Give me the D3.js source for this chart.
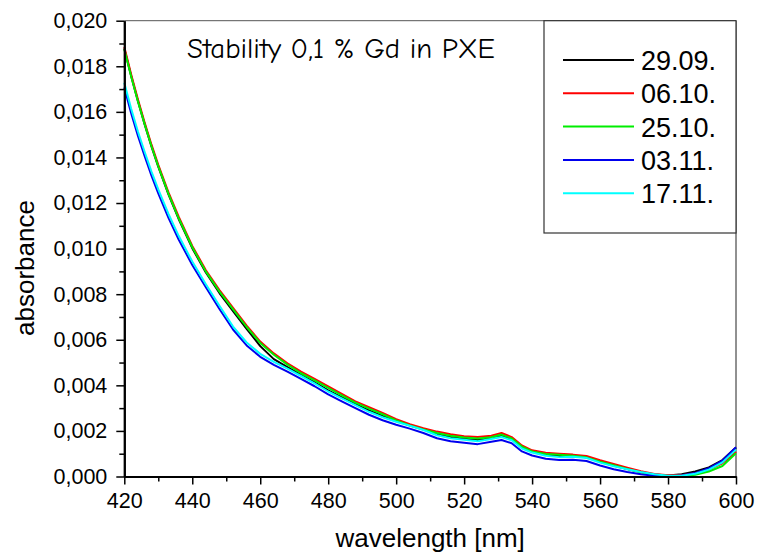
<!DOCTYPE html>
<html>
<head>
<meta charset="utf-8">
<script src="https://cdn.jsdelivr.net/npm/d3@7"></script>
<style>
  html, body { margin: 0; padding: 0; background: #fff; }
  svg { display: block; }
</style>
</head>
<body>
<svg id="chart" width="764" height="557"></svg>
<script>
// ---------- data (absorbance values in units of 0.001) ----------
const wavelengths = [420,422,424,426,428,430,433,436,440,444,448,452,456,460,464,468,472,476,480,484,488,492,496,500,504,508,512,516,520,524,528,531,534,537,540,544,548,552,556,560,564,568,572,576,580,584,588,592,596,600];

const s2909 = [18.78,17.58,16.48,15.45,14.48,13.60,12.38,11.30,10.02,8.95,8.05,7.25,6.48,5.72,5.15,4.80,4.46,4.13,3.78,3.47,3.17,2.90,2.66,2.44,2.25,2.07,1.86,1.73,1.66,1.60,1.70,1.80,1.64,1.28,1.08,0.95,0.90,0.90,0.85,0.65,0.48,0.33,0.20,0.09,0.04,0.10,0.22,0.40,0.72,1.27];
const s0610 = [18.85,17.65,16.55,15.52,14.56,13.68,12.47,11.40,10.12,9.05,8.18,7.40,6.62,5.92,5.40,4.97,4.60,4.28,3.95,3.62,3.30,3.04,2.79,2.52,2.30,2.12,1.97,1.85,1.77,1.73,1.79,1.91,1.73,1.36,1.15,1.04,1.00,0.96,0.90,0.71,0.55,0.39,0.23,0.11,0.05,0.06,0.14,0.30,0.58,1.08];
const s2510 = [18.75,17.56,16.47,15.45,14.49,13.61,12.40,11.33,10.06,8.99,8.11,7.33,6.56,5.86,5.34,4.91,4.53,4.22,3.89,3.56,3.24,2.98,2.73,2.46,2.24,2.06,1.91,1.79,1.71,1.67,1.72,1.84,1.67,1.31,1.10,0.99,0.95,0.91,0.84,0.65,0.49,0.33,0.18,0.07,0.02,0.02,0.08,0.22,0.46,1.02];
const s0311 = [17.07,15.95,14.95,14.05,13.20,12.42,11.35,10.40,9.28,8.30,7.35,6.45,5.75,5.25,4.90,4.60,4.28,3.96,3.60,3.30,3.00,2.71,2.47,2.27,2.10,1.91,1.68,1.55,1.48,1.42,1.52,1.60,1.46,1.10,0.92,0.78,0.72,0.74,0.68,0.48,0.32,0.20,0.10,0.03,0.00,0.04,0.15,0.36,0.70,1.28];
const s1711 = [17.28,16.15,15.14,14.24,13.38,12.60,11.52,10.56,9.43,8.44,7.49,6.58,5.88,5.38,5.03,4.73,4.41,4.09,3.73,3.43,3.13,2.84,2.60,2.40,2.23,2.04,1.81,1.68,1.61,1.55,1.65,1.73,1.59,1.23,1.05,0.91,0.85,0.87,0.81,0.61,0.45,0.32,0.20,0.10,0.03,0.03,0.12,0.30,0.62,1.18];

const seriesNames  = ["29.09.", "06.10.", "25.10.", "03.11.", "17.11."];
const seriesValues = [s2909, s0610, s2510, s0311, s1711];
const seriesColors = ["#000000", "#ff0000", "#00ee00", "#0000ee", "#00ffff"];

const xTicks = [420,440,460,480,500,520,540,560,580,600];
const yTicks = [0,0.002,0.004,0.006,0.008,0.010,0.012,0.014,0.016,0.018,0.020];
const titleText = "Stability 0,1 % Gd in PXE";
const xTitle = "wavelength [nm]";
const yTitle = "absorbance";

// ---------- layout ----------
const svg = d3.select("#chart");
const L = 124.3, R = 736, T = 20.7, B = 476.5;
const x = d3.scaleLinear().domain([420, 600]).range([L, R]);
const y = d3.scaleLinear().domain([0, 0.020]).range([B, T]);
const sansFont = "'Liberation Sans', Arial, sans-serif";

// frame (top/right thin)
svg.append("line").attr("x1", L).attr("x2", R).attr("y1", T).attr("y2", T)
  .attr("stroke", "#555").attr("stroke-width", 1);
svg.append("line").attr("x1", R).attr("x2", R).attr("y1", T).attr("y2", B)
  .attr("stroke", "#222").attr("stroke-width", 1);

// curves
const line = d3.line()
  .x((d, i) => x(wavelengths[i]))
  .y(d => y(d / 1000));
seriesValues.forEach((vals, k) => {
  svg.append("path").datum(vals)
    .attr("fill", "none")
    .attr("stroke", seriesColors[k])
    .attr("stroke-width", 2)
    .attr("stroke-linejoin", "round")
    .attr("d", line);
});

// axes
const xAxis = d3.axisBottom(x).tickValues(xTicks).tickFormat(d3.format("d")).tickSize(8).tickSizeOuter(0).tickPadding(8);
const xMinor = d3.axisBottom(x).tickValues(d3.range(430, 600, 20)).tickFormat("").tickSize(5).tickSizeOuter(0);
const yFmt = d => d3.format(".3f")(d).replace(".", ",");
const yAxis = d3.axisLeft(y).tickValues(yTicks).tickFormat(yFmt).tickSize(8).tickSizeOuter(0).tickPadding(9);
const yMinor = d3.axisLeft(y).tickValues(d3.range(0.001, 0.020, 0.002)).tickFormat("").tickSize(5).tickSizeOuter(0);

function styleAxis(g) {
  g.select(".domain").attr("stroke", "#000").attr("stroke-width", 2);
  g.selectAll(".tick line").attr("stroke", "#000").attr("stroke-width", 1.5);
  g.selectAll(".tick text").attr("fill", "#000").style("font-family", sansFont).style("font-size", "21.5px");
}
svg.append("g").attr("transform", `translate(0,${B})`).call(xMinor).call(styleAxis);
svg.append("g").attr("transform", `translate(${L},0)`).call(yMinor).call(styleAxis);
svg.append("g").attr("transform", `translate(0,${B})`).call(xAxis).call(styleAxis);
svg.append("g").attr("transform", `translate(${L},0)`).call(yAxis).call(styleAxis);

// axis titles
svg.append("text").attr("x", (L + R) / 2).attr("y", 547)
  .attr("text-anchor", "middle").style("font-family", sansFont).style("font-size", "26px")
  .text(xTitle);
svg.append("text").attr("transform", "translate(34,268) rotate(-90)")
  .attr("text-anchor", "middle").style("font-family", sansFont).style("font-size", "26px")
  .text(yTitle);

// title
const tt = svg.append("text").attr("x", 187).attr("y", 58)
  .style("font-family", "'Comic Sans MS', 'Comic Neue', 'DejaVu Sans', sans-serif")
  .style("font-size", "21px").text(titleText);
const tw = tt.node().getComputedTextLength();
tt.style("font-size", (21 * 308 / tw).toFixed(2) + "px");

// legend
svg.append("rect").attr("x", 544).attr("y", T).attr("width", R - 544).attr("height", 233 - T)
  .attr("fill", "#fff").attr("stroke", "#333").attr("stroke-width", 1.2);
seriesNames.forEach((name, k) => {
  const ly = 60 + k * 33.3;
  svg.append("line").attr("x1", 563).attr("x2", 634).attr("y1", ly).attr("y2", ly)
    .attr("stroke", seriesColors[k]).attr("stroke-width", 2);
  svg.append("text").attr("x", 641).attr("y", ly + 10)
    .style("font-family", sansFont).style("font-size", "27px").text(name);
});
</script>
</body>
</html>
